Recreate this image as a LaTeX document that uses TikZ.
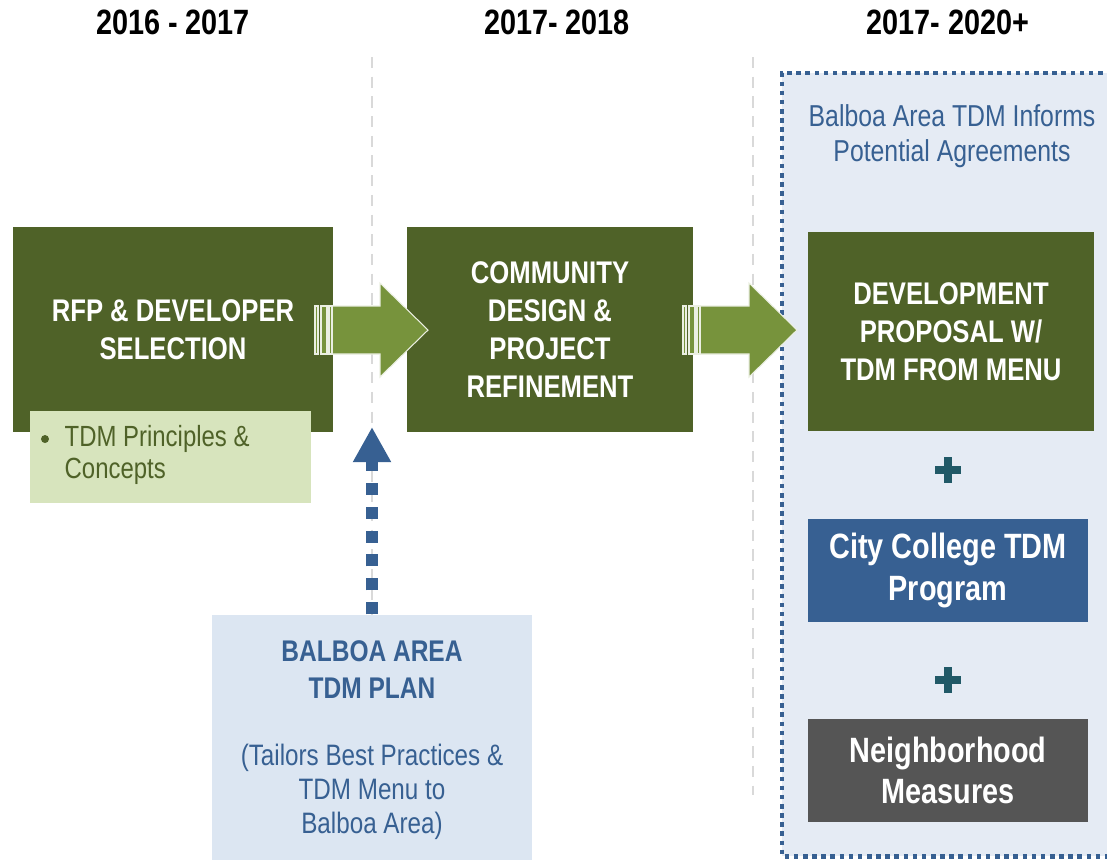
\documentclass[tikz,border=0pt]{standalone}
\usepackage{fontspec}
\setmainfont{Liberation Sans}[FakeStretch=0.82]
\usetikzlibrary{arrows.meta,calc}

\definecolor{boxgreen}{HTML}{4F6228}
\definecolor{arrowgreen}{HTML}{77933C}
\definecolor{notegreen}{HTML}{D7E4BD}
\definecolor{boxblue}{HTML}{376092}
\definecolor{paleblue}{HTML}{E5EBF4}
\definecolor{planblue}{HTML}{DCE6F2}
\definecolor{boxgray}{HTML}{555555}
\definecolor{plusteal}{HTML}{215967}
\definecolor{guidegray}{HTML}{D9D9D9}

% block arrow from a tail point to a tip point, with the striped tail
\newcommand{\greenarrow}[2]{%
  \filldraw[fill=arrowgreen, draw=white!85!arrowgreen, line width=0.3pt]
    ($(#1)+(0,-24)$) -- ($(#2)+(-48,-24)$) -- ($(#2)+(-48,-47)$) -- (#2)
    -- ($(#2)+(-48,47)$) -- ($(#2)+(-48,24)$) -- ($(#1)+(0,24)$) -- cycle;
  \foreach \a/\b in {-17/-14,-11/-5,-3/0}
    \filldraw[fill=arrowgreen, draw=white!85!arrowgreen, line width=0.3pt]
      ($(#1)+(\a,-24)$) rectangle ($(#1)+(\b,24)$);
}

\begin{document}
\begin{tikzpicture}[x=0.01cm, y=-0.01cm,
    phase/.style={font=\bfseries\fontsize{10}{11.5}\selectfont},
    stage/.style={fill=boxgreen, text=white, inner sep=0pt, align=center,
      font=\bfseries\fontsize{8.9}{10.8}\selectfont},
    option/.style={text=white, inner sep=0pt, align=center,
      font=\bfseries\fontsize{10}{11.7}\selectfont},
    note/.style={align=center, font=\fontsize{8.4}{9.7}\selectfont},
    guide/.style={guidegray, line width=0.6pt, dash pattern=on 3.2pt off 2.4pt},
    plusmark/.style={plusteal, line width=2.3pt}]
    \useasboundingbox (0,0) rectangle (1107,859);

    % the three periods
    \node[phase] (p1) at (173,22) {2016 - 2017};
    \node[phase] (p2) at (557,22) {2017- 2018};
    \node[phase] (p3) at (948,22) {2017- 2020+};

    % dashed separators
    \draw[guide] (372,57) -- (372,615);
    \draw[guide] (753,57) -- (753,795);

    % the agreements column
    \fill[paleblue] (782,73) rectangle (1130,856);
    \draw[boxblue, line width=1.4pt, dash pattern=on 1.3pt off 1.3pt]
        (1130,73) -- (782,73) -- (782,856) -- (1130,856);
    \node[note, text=boxblue, font=\fontsize{8.6}{10}\selectfont] (informs) at (952,136)
        {Balboa Area TDM Informs\\Potential Agreements};

    % the stages
    \node[stage, minimum width=3.2cm, minimum height=2.05cm] (rfp) at (173,329.5)
        {RFP \& DEVELOPER\\SELECTION};
    \node[stage, minimum width=2.86cm, minimum height=2.05cm] (design) at (550,329.5)
        {COMMUNITY\\DESIGN \&\\PROJECT\\REFINEMENT};
    \node[stage, minimum width=2.86cm, minimum height=1.99cm] (proposal) at (951,331.5)
        {DEVELOPMENT\\PROPOSAL W/\\TDM FROM MENU};

    % note under the first stage
    \node[fill=notegreen, minimum width=2.81cm, minimum height=0.92cm] (principles) at (170.5,457) {};
    \node[circle, fill=boxgreen, inner sep=0pt, minimum size=0.08cm] (bullet) at (45,439) {};
    \node[note, align=left, text=boxgreen, anchor=west, inner sep=0pt,
        font=\fontsize{8.3}{9.1}\selectfont] (principlestext) at (64,455)
        {TDM Principles \&\\Concepts};

    % arrows between the stages
    \coordinate (tail1) at (332,330);
    \coordinate (tip1) at (428,330);
    \coordinate (tail2) at (700,330);
    \coordinate (tip2) at (797,330);
    \greenarrow{tail1}{tip1}
    \greenarrow{tail2}{tip2}

    % the other parts of the agreements
    \draw[plusmark] (935,470) -- (961,470) (948,457) -- (948,483);
    \node[option, fill=boxblue, minimum width=2.8cm, minimum height=1.03cm] (college) at (948,570.5)
        {City College TDM\\Program};
    \draw[plusmark] (935,680) -- (961,680) (948,667) -- (948,693);
    \node[option, fill=boxgray, minimum width=2.8cm, minimum height=1.03cm] (neighborhood) at (948,770.5)
        {Neighborhood\\Measures};

    % the area plan feeding the design stage
    \node[fill=planblue, minimum width=3.19cm, minimum height=2.45cm] (plan) at (372,737.5) {};
    \node[align=center, text=boxblue, font=\bfseries\fontsize{8.5}{10.5}\selectfont] (plantitle) at (372,669.5)
        {BALBOA AREA\\TDM PLAN};
    \node[note, text=boxblue] (plannote) at (372,792)
        {(Tailors Best Practices \&\\TDM Menu to\\Balboa Area)};
    \coordinate (plantip) at (372,427);
    \draw[boxblue, line width=3.4pt, dash pattern=on 3.4pt off 3.4pt,
        -{Triangle[width=10.2pt, length=10pt]}] (plan.north) -- (plantip);

\end{tikzpicture}
\end{document}
